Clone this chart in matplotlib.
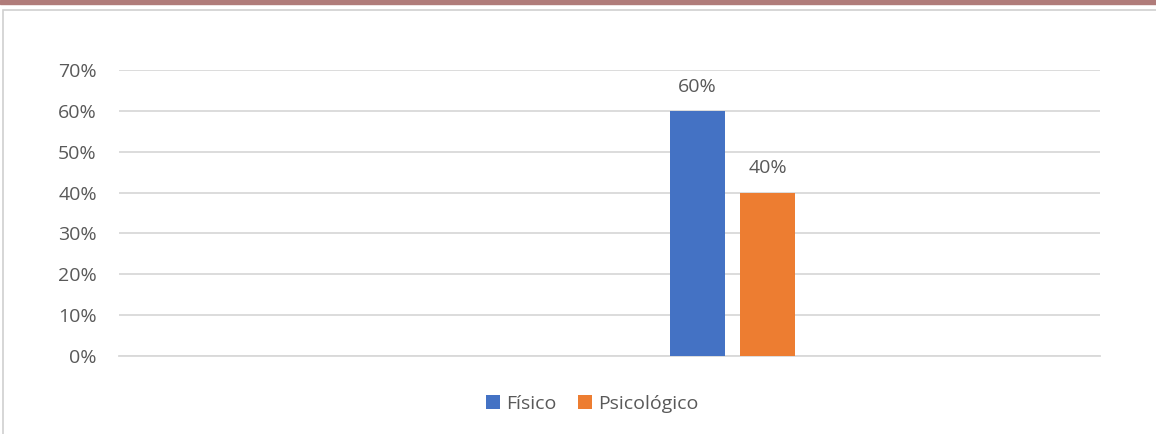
import matplotlib.pyplot as plt
from matplotlib.patches import Rectangle

# datos
series = ["Físico", "Psicológico"]
valores = [0.60, 0.40]
colores = ["#4472C4", "#ED7D31"]
yticks = [0, 0.1, 0.2, 0.3, 0.4, 0.5, 0.6, 0.7]

plt.rcParams["font.family"] = ["Open Sans", "DejaVu Sans"]
gris = "#595959"

fig = plt.figure(figsize=(11.56, 4.34), dpi=100)

# banda superior y marco del grafico
fig.patches.append(Rectangle((0, 1 - 4 / 434), 1, 4 / 434, transform=fig.transFigure,
                             color="#b07c7a", zorder=0))
fig.patches.append(Rectangle((3 / 1156, -0.05), 1.1, 1 - 10 / 434 + 0.05, transform=fig.transFigure,
                             facecolor="none", edgecolor="#d0d0d0", lw=1.2, zorder=0))

ax = fig.add_axes([119 / 1156, 78 / 434, (1100 - 119) / 1156, (364 - 78) / 434])

# posiciones de las barras en el eje (unidades de pixel aprox.)
pos = [697.5, 767.5]
barras = ax.bar(pos, valores, width=55, color=colores, zorder=3)
for b, v in zip(barras, valores):
    ax.annotate(f"{v:.0%}", (b.get_x() + b.get_width() / 2, v), xytext=(0, 11),
                textcoords="offset points", ha="center", va="bottom", fontsize=14, color=gris)

ax.set_xlim(119, 1100)
ax.set_ylim(0, 0.7)
ax.set_yticks(yticks)
ax.set_yticklabels([f"{t:.0%}" for t in yticks], fontsize=14, color=gris)
ax.tick_params(axis="y", length=0, pad=16)
ax.set_xticks([])
ax.grid(axis="y", color="#d9d9d9", lw=1.3, zorder=0)
for s in ["top", "right", "left"]:
    ax.spines[s].set_visible(False)
ax.spines["bottom"].set_color("#d9d9d9")
ax.spines["bottom"].set_linewidth(1.3)

leg = fig.legend(barras, series, loc="center", bbox_to_anchor=(592 / 1156, 1 - 404 / 434),
                 ncol=2, frameon=False, fontsize=14, handlelength=0.75, handleheight=0.75,
                 handletextpad=0.3, columnspacing=1.1, labelcolor=gris)

plt.savefig("out.png", dpi=100)
